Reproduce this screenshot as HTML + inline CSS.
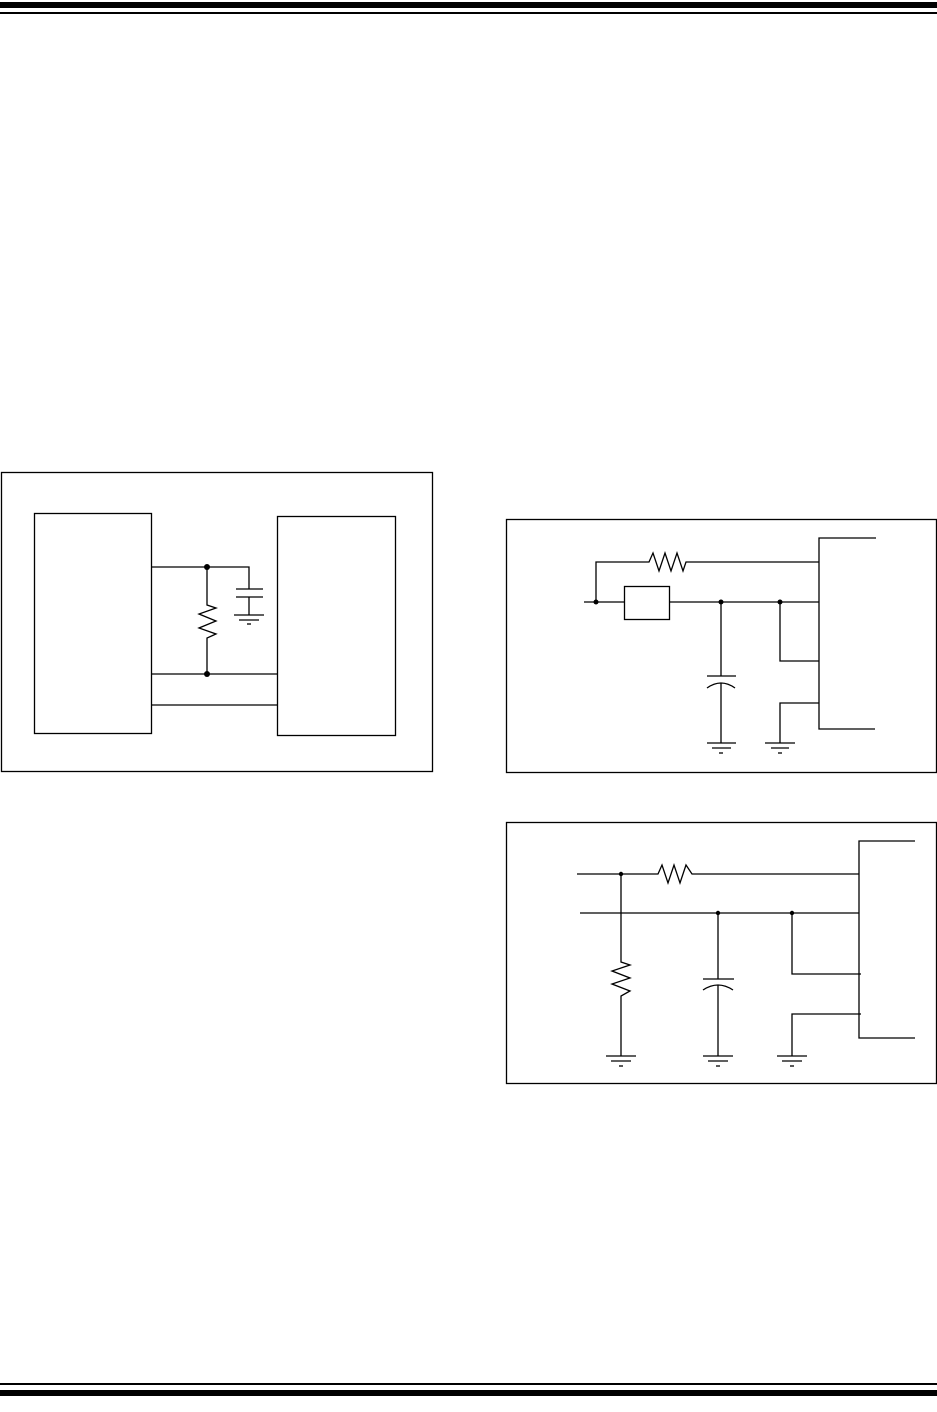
<!DOCTYPE html>
<html><head><meta charset="utf-8"><style>
html,body{margin:0;padding:0;background:#fff;}
svg{display:block;}
</style></head><body>
<svg width="937" height="1412" viewBox="0 0 937 1412" xmlns="http://www.w3.org/2000/svg">
<rect x="0" y="2" width="937" height="6" fill="#000"/>
<rect x="0" y="12" width="937" height="2" fill="#000"/>
<rect x="0" y="1383" width="937" height="2" fill="#000"/>
<rect x="0" y="1390" width="937" height="6" fill="#000"/>
<g fill="none" stroke="#000" stroke-width="1.3">
<!-- Figure 1 -->
<rect x="1.5" y="472.5" width="431" height="299"/>
<rect x="34.5" y="513.5" width="117" height="220"/>
<rect x="277.5" y="516.5" width="118" height="219"/>
<polyline points="151,567 249,567 249,589"/>
<line x1="236" y1="589" x2="263" y2="589"/>
<line x1="236" y1="597" x2="263" y2="597"/>
<line x1="249" y1="597" x2="249" y2="615"/>
<line x1="234" y1="615" x2="264" y2="615"/>
<line x1="239" y1="620" x2="259" y2="620"/>
<line x1="247" y1="624" x2="251" y2="624"/>
<polyline points="207,567 207,605 216,608 199,614 216,621 199,628 216,634 207,638 207,674"/>
<line x1="151" y1="674" x2="278" y2="674"/>
<line x1="151" y1="705" x2="278" y2="705"/>
<!-- Figure 2 -->
<rect x="506.5" y="519.5" width="430" height="253"/>
<polyline points="876,538 819,538 819,729 875,729"/>
<polyline points="596,602 596,562 649,562 653,553 659,571 665,553 671,571 677,553 683,571 686,562 819,562"/>
<line x1="584" y1="602" x2="624" y2="602"/>
<rect x="624.5" y="586.5" width="45" height="33"/>
<line x1="669" y1="602" x2="819" y2="602"/>
<line x1="721" y1="602" x2="721" y2="676"/>
<line x1="707" y1="676" x2="736" y2="676"/>
<path d="M707,688 Q721,678 735,688"/>
<line x1="721" y1="683" x2="721" y2="743"/>
<polyline points="780,602 780,661 819,661"/>
<polyline points="819,703 780,703 780,743"/>
<!-- Figure 3 -->
<rect x="506.5" y="822.5" width="430" height="261"/>
<polyline points="915,841 859,841 859,1038 915,1038"/>
<polyline points="577,874 658,874 662,865 668,883 674,865 680,883 686,865 692,874 859,874"/>
<line x1="580" y1="913" x2="859" y2="913"/>
<polyline points="621,874 621,962 630,965 612,971 630,978 612,984 630,991 621,996 621,1056"/>
<line x1="718" y1="913" x2="718" y2="979"/>
<line x1="703" y1="979" x2="734" y2="979"/>
<path d="M703,990 Q718,980 733,990"/>
<line x1="718" y1="985" x2="718" y2="1056"/>
<polyline points="792,913 792,974 861,974"/>
<polyline points="861,1014 792,1014 792,1056"/>
</g>
<g stroke="#000" stroke-width="1.3">
<line x1="707" y1="743" x2="736" y2="743"/><line x1="712" y1="748" x2="731" y2="748"/><line x1="719" y1="753" x2="723" y2="753"/>
<line x1="765" y1="743" x2="795" y2="743"/><line x1="771" y1="748" x2="789" y2="748"/><line x1="778" y1="753" x2="782" y2="753"/>
<line x1="606" y1="1056" x2="636" y2="1056"/><line x1="611" y1="1061" x2="631" y2="1061"/><line x1="619" y1="1066" x2="623" y2="1066"/>
<line x1="703" y1="1056" x2="733" y2="1056"/><line x1="708" y1="1061" x2="728" y2="1061"/><line x1="716" y1="1066" x2="720" y2="1066"/>
<line x1="777" y1="1056" x2="807" y2="1056"/><line x1="782" y1="1061" x2="802" y2="1061"/><line x1="790" y1="1066" x2="794" y2="1066"/>
</g>
<g fill="#000">
<circle cx="207" cy="567" r="3"/><circle cx="207" cy="674" r="3"/>
<circle cx="596" cy="602" r="2.5"/><circle cx="721" cy="602" r="2.5"/><circle cx="780" cy="602" r="2.5"/>
<circle cx="621" cy="874" r="2.2"/><circle cx="718" cy="913" r="2.2"/><circle cx="792" cy="913" r="2.2"/>
</g>
</svg>
</body></html>
